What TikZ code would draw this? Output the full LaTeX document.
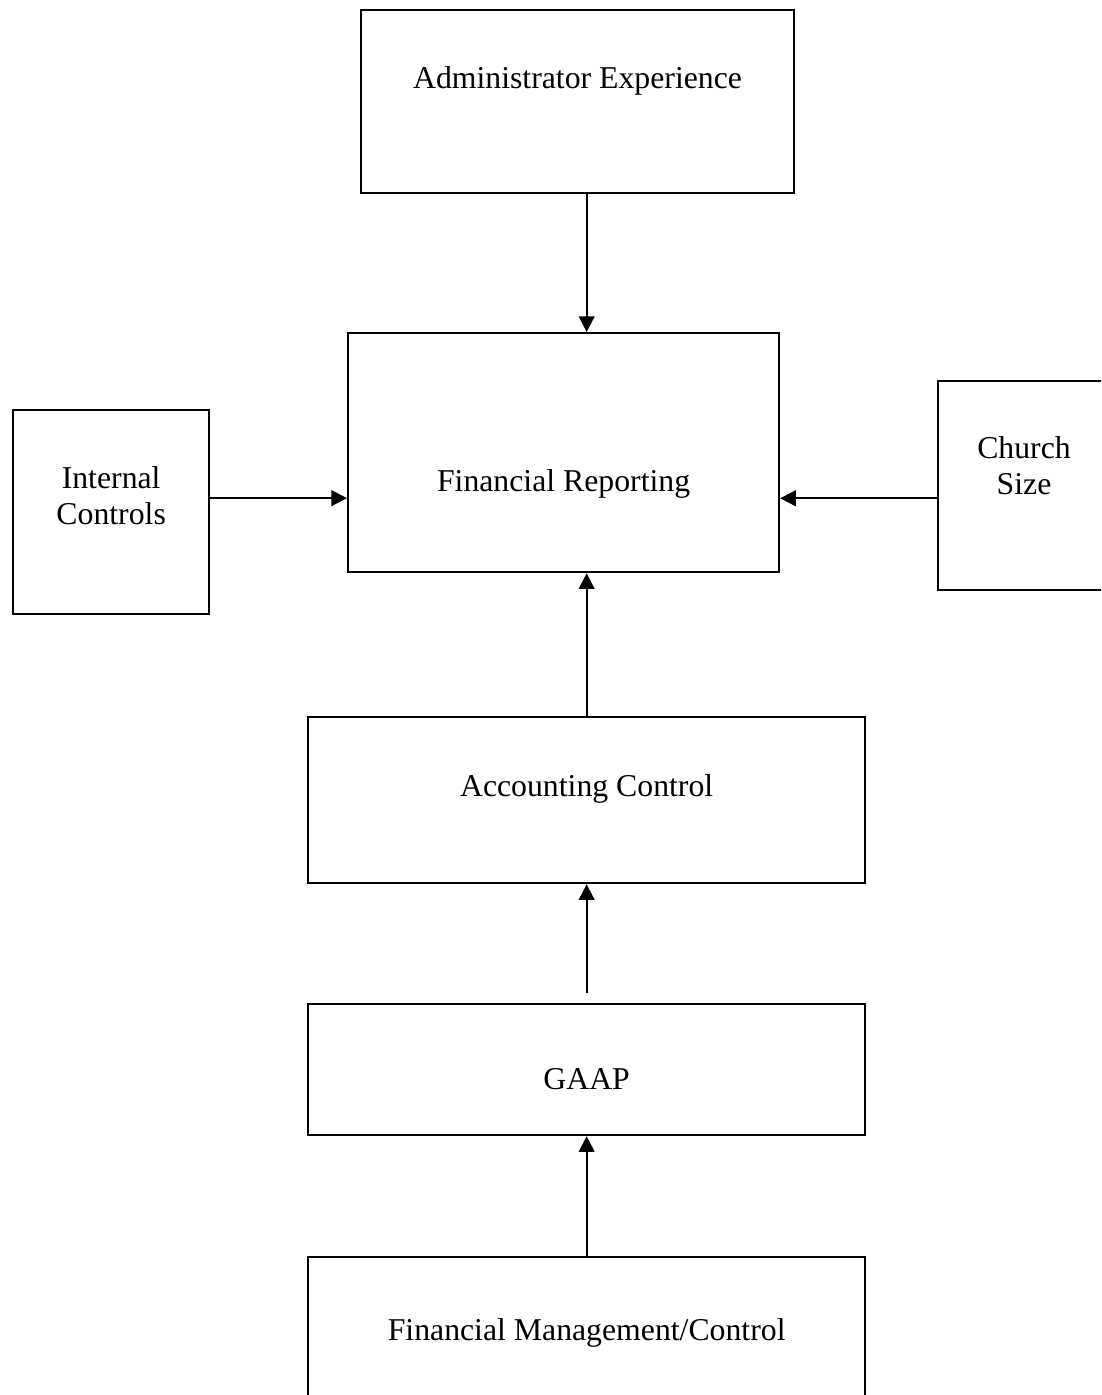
\documentclass[tikz,border=0pt]{standalone}
\usepackage{fontspec}
\setmainfont{Liberation Serif}
\usetikzlibrary{arrows.meta}

\begin{document}
\begin{tikzpicture}[
  x=0.359pt, y=-0.359pt,
  box/.style={draw, line width=0.8pt, inner sep=0pt, anchor=north west, align=center, font=\fontsize{11.4}{12.9}\selectfont},
  arr/.style={line width=0.7pt, -{Triangle[length=5.6pt, width=5.6pt]}}
]
\useasboundingbox (0,0) rectangle (1101,1395);
\clip (0,0) rectangle (1101,1395);

\node[box, minimum width=155.4pt, text height=28pt, text depth=37.7pt] (admin) at (360,9) {Administrator Experience};
\node[box, minimum width=154.7pt, text height=56.7pt, text depth=29.1pt] (fin) at (347,332) {Financial Reporting};
\node[box, minimum width=70.4pt, text height=40.9pt, text depth=32.3pt] (intctl) at (12,409) {Internal\\Controls};
\node[box, minimum width=61.7pt, text height=40.6pt, text depth=34.5pt] (church) at (937,380) {Church\\Size};
\node[box, minimum width=200pt, text height=28.4pt, text depth=31.2pt] (acct) at (307,716) {Accounting Control};
\node[box, minimum width=200pt, text height=30.5pt, text depth=16.5pt] (gaap) at (307,1003) {GAAP};
\node[box, minimum width=200pt, text height=29.8pt, text depth=43.1pt] (fmc) at (307,1256) {Financial Management/Control};

\draw[arr] (admin.south -| acct.north) -- (fin.north -| acct.north);
\draw[arr] ([yshift=5pt]intctl.east) -- ([yshift=5pt]intctl.east -| fin.west);
\draw[arr] ([yshift=-4.5pt]church.west) -- ([yshift=-4.5pt]church.west -| fin.east);
\draw[arr] (acct.north) -- (fin.south -| acct.north);
\draw[arr, shorten <=3.6pt] (gaap.north) -- (acct.south);
\draw[arr] (fmc.north) -- (gaap.south);
\end{tikzpicture}
\end{document}
